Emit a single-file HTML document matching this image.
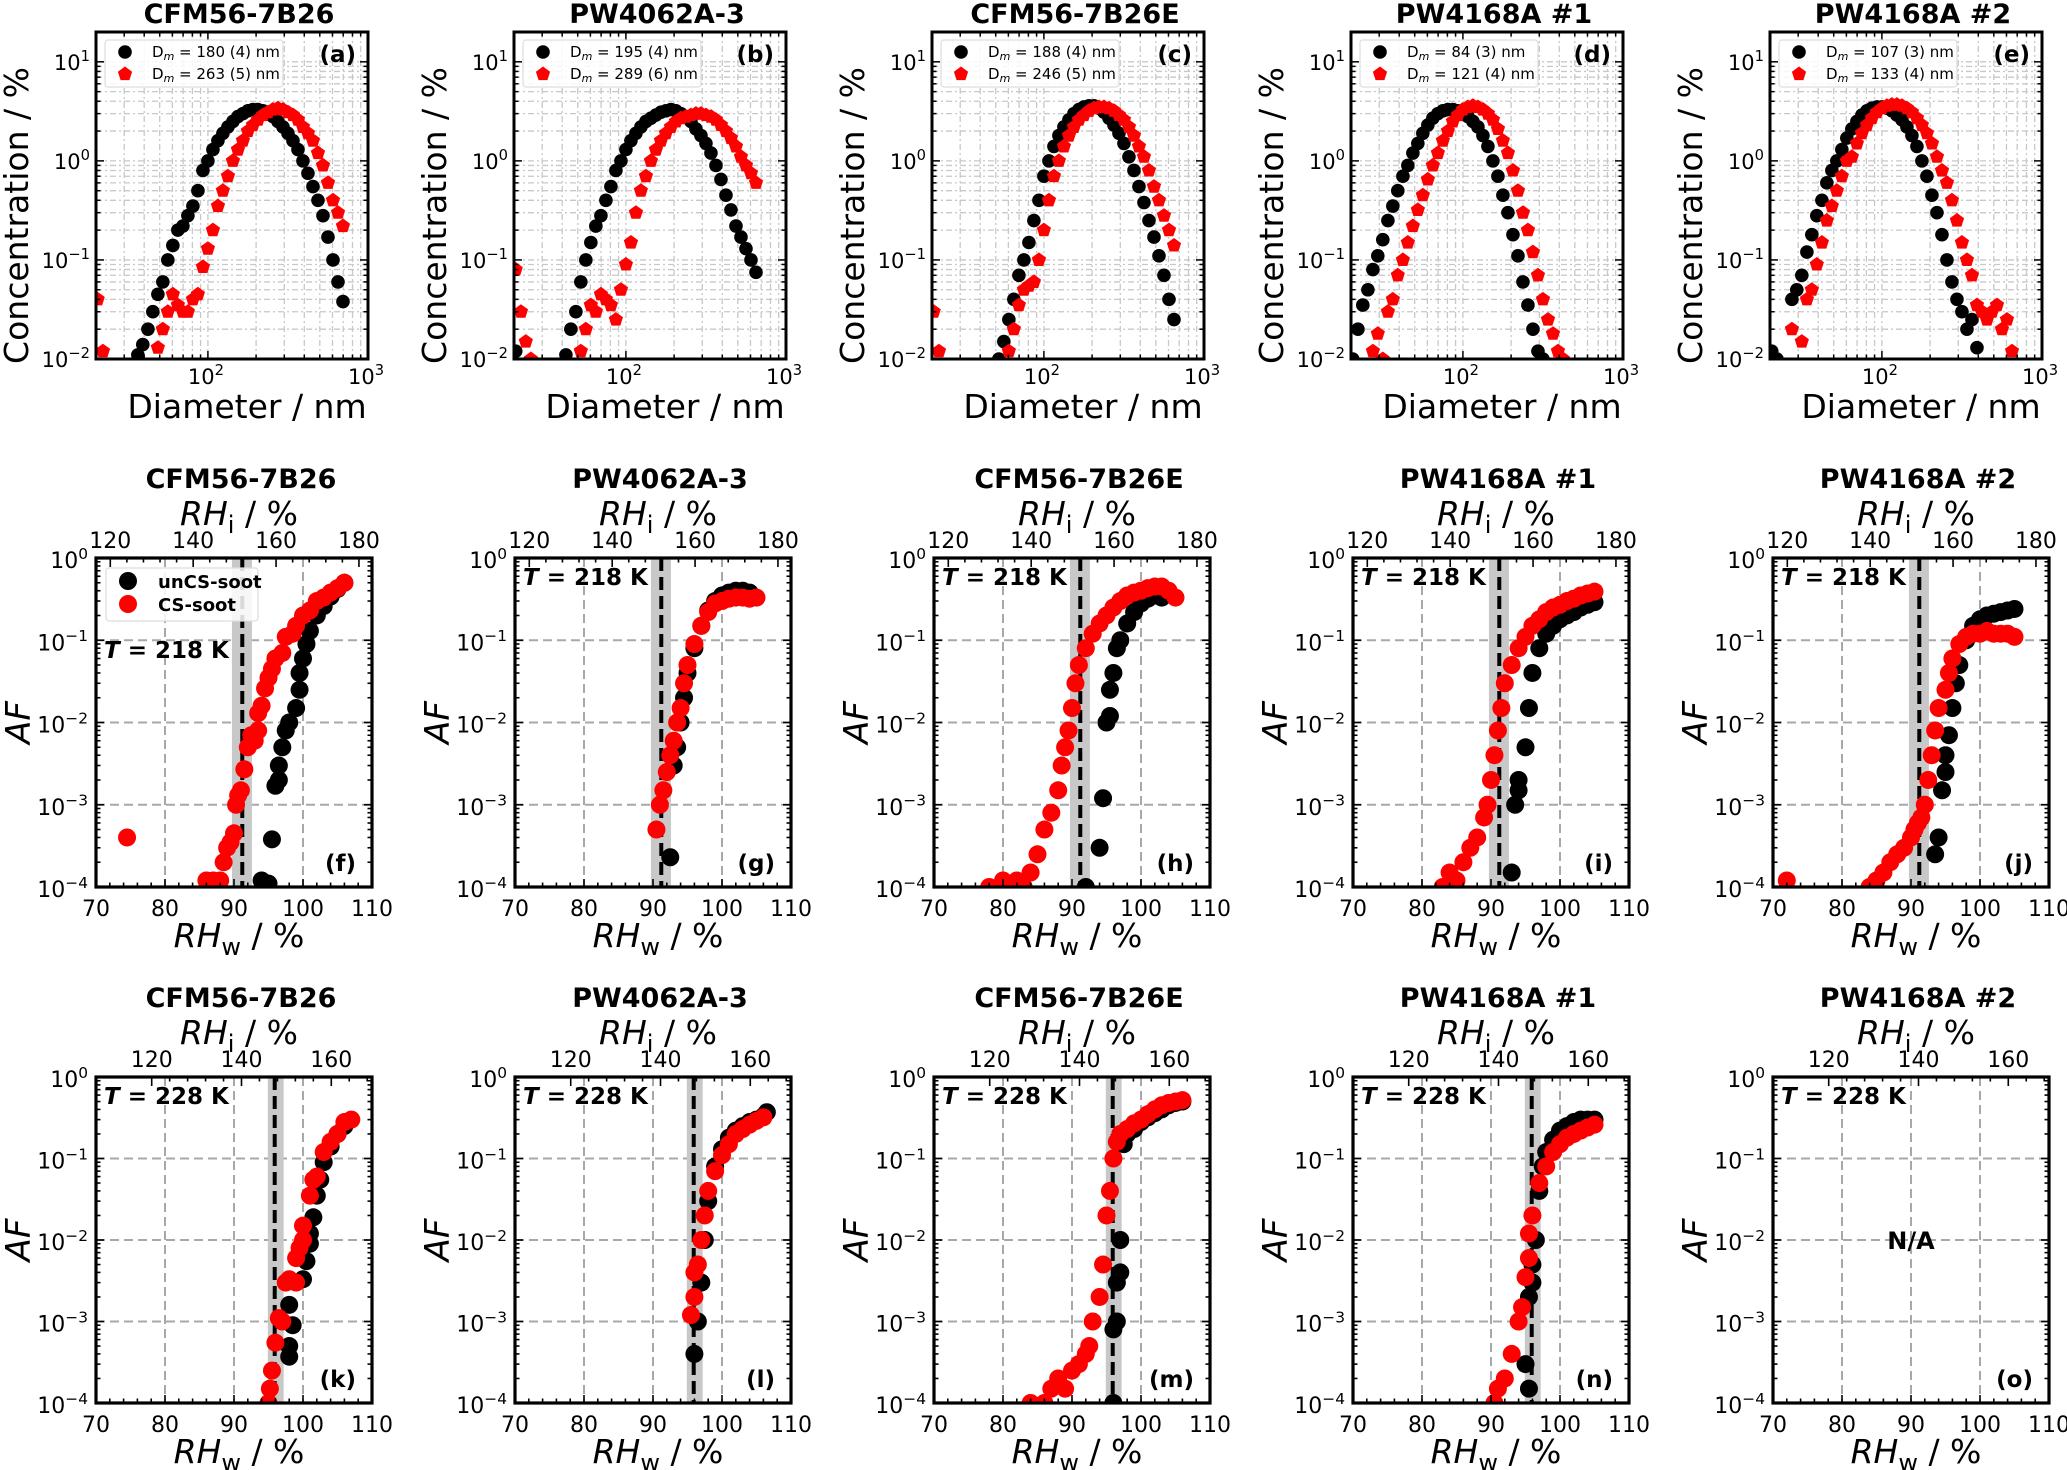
<!DOCTYPE html>
<html><head><meta charset="utf-8"><style>
html,body{margin:0;padding:0;background:#fff;}
svg{display:block;font-family:"DejaVu Sans","Liberation Sans",sans-serif;}
</style></head><body>
<svg id="fig" xmlns="http://www.w3.org/2000/svg" width="2067" height="1470" viewBox="0 0 2067 1470"></svg>
<script>
// ---------- DATA: size distributions (row 1) ----------
const diam = [20.5,22.1,23.7,25.5,27.4,29.4,31.6,34.0,36.5,39.2,42.2,45.3,48.7,52.3,56.2,60.4,64.9,69.8,75.0,80.6,86.6,93.1,100,107.5,115.5,124.1,133.4,143.3,154.0,165.5,177.8,191.1,205.4,220.7,237.2,254.8,273.8,294.3,316.2,339.8,365.2,392.4,421.7,453.2,487.0,523.3,562.3,604.3,649.4,697.8];
const engines = ["CFM56-7B26","PW4062A-3","CFM56-7B26E","PW4168A #1","PW4168A #2"];
const dmBlack = ["180 (4)","195 (4)","188 (4)","84 (3)","107 (3)"];
const dmRed = ["263 (5)","289 (6)","246 (5)","121 (4)","133 (4)"];
const _ = null;
const concA_unCS = [_,_,_,_,_,_,_,_,0.011,0.014,0.02,0.03,0.045,0.06,0.1,0.14,0.2,0.22,0.28,0.35,0.5,0.8,1.0,1.3,1.6,1.9,2.2,2.5,2.8,3.0,3.2,3.3,3.3,3.2,3.0,2.8,2.5,2.2,1.9,1.6,1.3,1.0,0.75,0.55,0.4,0.28,0.17,0.1,0.06,0.038];
const concA_CS = [0.04,0.012,_,_,_,_,_,_,_,_,_,_,0.013,0.02,0.03,0.045,0.035,0.03,0.03,0.04,0.045,0.085,0.13,0.2,0.35,0.5,0.7,1.0,1.3,1.6,2.0,2.3,2.6,2.9,3.1,3.3,3.4,3.3,3.1,2.9,2.6,2.2,1.9,1.6,1.2,0.9,0.6,0.4,0.3,0.22];
const concB_unCS = [0.012,_,_,_,_,_,_,_,_,0.008,0.011,0.02,0.03,0.06,0.1,0.15,0.22,0.28,0.4,0.55,0.8,1.0,1.3,1.6,1.9,2.2,2.5,2.7,2.9,3.1,3.2,3.3,3.2,3.0,2.8,2.5,2.1,1.8,1.5,1.2,0.9,0.65,0.45,0.32,0.22,0.17,0.13,0.1,0.075,_];
const concB_CS = [0.08,0.03,0.015,0.01,_,_,_,_,_,_,_,_,_,0.012,0.02,0.035,0.03,0.045,0.04,0.035,0.025,0.05,0.09,0.15,0.3,0.5,0.7,1.0,1.3,1.6,1.9,2.2,2.5,2.7,2.8,2.9,3.0,3.0,2.9,2.8,2.6,2.3,2.0,1.7,1.4,1.1,0.9,0.75,0.6,_];
const concC_unCS = [_,_,_,_,_,_,_,_,_,_,_,_,_,0.01,0.015,0.025,0.04,0.07,0.1,0.15,0.25,0.4,0.7,1.0,1.4,1.8,2.2,2.6,3.0,3.3,3.5,3.6,3.6,3.4,3.1,2.7,2.3,1.9,1.5,1.1,0.8,0.55,0.38,0.25,0.17,0.11,0.07,0.04,0.025,_];
const concC_CS = [0.03,0.012,_,_,_,_,_,_,_,_,_,_,_,_,_,0.012,0.02,0.035,0.05,0.055,0.06,0.1,0.2,0.4,0.7,1.0,1.4,1.8,2.2,2.6,2.9,3.2,3.4,3.5,3.5,3.4,3.2,2.9,2.6,2.2,1.8,1.4,1.1,0.8,0.55,0.4,0.28,0.2,0.14,_];
const concD_unCS = [0.01,0.02,0.035,0.05,0.08,0.11,0.16,0.25,0.35,0.5,0.7,0.9,1.2,1.5,1.9,2.3,2.7,3.0,3.2,3.3,3.3,3.2,3.0,2.8,2.5,2.2,1.8,1.4,1.0,0.7,0.45,0.3,0.18,0.11,0.06,0.035,0.02,0.012,0.01,_,_,_,_,_,_,_,_,_,_,_];
const concD_CS = [_,_,_,_,0.012,0.018,0.01,0.03,0.04,0.07,0.1,0.15,0.22,0.32,0.45,0.65,0.9,1.2,1.6,2.0,2.5,2.9,3.3,3.5,3.6,3.5,3.3,3.0,2.6,2.1,1.6,1.2,0.8,0.5,0.3,0.2,0.12,0.07,0.04,0.025,0.018,0.012,0.01,_,_,_,_,_,_,_];
const concE_unCS = [0.012,0.01,_,_,0.04,0.05,0.07,0.12,0.18,0.28,0.4,0.6,0.8,1.0,1.3,1.7,2.1,2.5,2.9,3.2,3.4,3.5,3.5,3.4,3.2,2.9,2.6,2.2,1.8,1.4,1.0,0.7,0.45,0.3,0.18,0.1,0.06,0.04,0.03,0.02,0.025,0.013,_,_,_,_,_,_,_,_];
const concE_CS = [_,_,_,_,0.02,_,0.015,0.04,0.05,0.09,0.15,0.25,0.35,0.5,0.7,1.0,1.1,1.5,1.9,2.3,2.7,3.1,3.4,3.6,3.7,3.7,3.6,3.4,3.1,2.7,2.3,1.9,1.5,1.1,0.8,0.6,0.4,0.25,0.15,0.1,0.07,0.035,0.03,0.025,0.03,0.035,0.02,0.025,0.012,_];
const concUnCS = [concA_unCS,concB_unCS,concC_unCS,concD_unCS,concE_unCS];
const concCS = [concA_CS,concB_CS,concC_CS,concD_CS,concE_CS];

// ---------- DATA: activated fraction (rows 2,3) ----------
const f_un_rh=[94,95,95.5,96,96.5,96.5,97,97.5,98,99,99.5,99.5,100,100.5,101,102,103,104,105,106];
const f_un_af=[1.2e-4,1.1e-4,3.8e-4,1.7e-3,2e-3,3e-3,5e-3,8e-3,1e-2,1.5e-2,2.5e-2,4e-2,6e-2,9e-2,1.3e-1,2e-1,2.6e-1,3.4e-1,4.2e-1,5e-1];
const f_cs_rh=[74.5,86,87,88,88.5,89,89.5,90,90.3,90.6,91,91.5,92,92.5,93,93.5,93.5,94,94.5,95,95.5,96,97,97.5,98.5,99,100,101,102,103,104,105,106];
const f_cs_af=[4e-4,1.2e-4,1.2e-4,1.2e-4,2e-4,3e-4,3.5e-4,4.5e-4,1e-3,1.3e-3,1.5e-3,2.7e-3,5e-3,7e-3,6e-3,8e-3,1.3e-2,1.6e-2,2.6e-2,3.5e-2,4.5e-2,6e-2,7e-2,1.1e-1,1.2e-1,1.5e-1,2e-1,2.3e-1,3e-1,3.3e-1,3.8e-1,4.3e-1,5e-1];
const g_un_rh=[92.5,93,93.5,94,94.5,95,96,97,98,99,100,101,102,103,104];
const g_un_af=[2.3e-4,3e-3,5e-3,1e-2,2e-2,4e-2,8e-2,1.5e-1,2.3e-1,3e-1,3.5e-1,3.8e-1,4e-1,4e-1,3.8e-1];
const g_cs_rh=[90.5,91,91.5,92,92.5,93,93.5,94,94.5,95,96,97,98,99,100,101,102,103,104,105];
const g_cs_af=[5e-4,1e-3,1.5e-3,2.5e-3,4e-3,6e-3,1e-2,1.5e-2,3e-2,5e-2,9e-2,1.5e-1,2.2e-1,2.8e-1,3e-1,3.2e-1,3.3e-1,3.3e-1,3.2e-1,3.3e-1];
const h_un_rh=[92,94,94.5,95,95.5,95.5,96,96.5,97,98,99,100,101,102,103];
const h_un_af=[1e-4,3e-4,1.2e-3,1e-2,1.2e-2,2.5e-2,4e-2,8e-2,1e-1,1.6e-1,2.2e-1,2.8e-1,3.2e-1,3.5e-1,3.3e-1];
const h_cs_rh=[78,80,81,82,83,84,85,86,87,88,88.5,89,89.5,90,90.5,91,92,93,94,95,96,97,98,99,100,101,102,103,104,105];
const h_cs_af=[1e-4,1.2e-4,1e-4,1.2e-4,1e-4,1.5e-4,2.5e-4,5e-4,8e-4,1.5e-3,3e-3,5e-3,8e-3,1.5e-2,3e-2,5e-2,8e-2,1.2e-1,1.6e-1,2e-1,2.5e-1,3e-1,3.5e-1,3.8e-1,4e-1,4.3e-1,4.5e-1,4.5e-1,4e-1,3.3e-1];
const i_un_rh=[93,93.5,94,94,95,95.5,96,97,98,99,100,101,102,103,104,105];
const i_un_af=[1.5e-4,1e-3,1.5e-3,2e-3,5e-3,1.5e-2,4e-2,8e-2,1.2e-1,1.5e-1,1.8e-1,2e-1,2.2e-1,2.5e-1,2.7e-1,2.9e-1];
const i_cs_rh=[83,84,85,86,87,88,89,89.5,90,90.5,91,91.5,92,93,94,95,96,97,98,99,100,101,102,103,104,105];
const i_cs_af=[1e-4,1.5e-4,1.2e-4,2e-4,3e-4,4e-4,7e-4,1e-3,2e-3,4e-3,8e-3,1.5e-2,3e-2,5e-2,8e-2,1.1e-1,1.5e-1,1.8e-1,2.2e-1,2.5e-1,2.7e-1,3e-1,3.2e-1,3.5e-1,3.7e-1,3.9e-1];
const j_un_rh=[93.5,94,94.5,95,95,95.5,96,96.5,97,98,99,100,101,102,103,104,105];
const j_un_af=[2.5e-4,4e-4,1.5e-3,2.5e-3,4e-3,7e-3,1.5e-2,3e-2,5e-2,1e-1,1.5e-1,1.8e-1,2e-1,2.1e-1,2.2e-1,2.3e-1,2.4e-1];
const j_cs_rh=[72,84,85,86,87,88,89,90,90.5,91,91.5,92,92.5,93,93.5,94,95,95.5,96,97,98,99,100,101,102,103,104,105];
const j_cs_af=[1.2e-4,1e-4,1.2e-4,1.5e-4,2e-4,2.5e-4,3e-4,4e-4,5e-4,6e-4,7e-4,1e-3,2e-3,4e-3,8e-3,1.5e-2,2.5e-2,4e-2,6e-2,9e-2,1.1e-1,1.2e-1,1.2e-1,1.3e-1,1.2e-1,1.2e-1,1.2e-1,1.1e-1];
const k_un_rh=[98,98,98.5,98,100,100.5,101,101,101.5,102,102.5,103,104,105,106];
const k_un_af=[3.7e-4,5e-4,9e-4,1.6e-3,3.3e-3,5.5e-3,9e-3,1.2e-2,1.9e-2,3.5e-2,5.5e-2,9e-2,1.4e-1,2e-1,2.5e-1];
const k_cs_rh=[95,95.2,95.5,96,96.5,97,97.5,98,99,99,99.5,100,100,101,101.5,102,103,104,105,106,107];
const k_cs_af=[1e-4,1.5e-4,2.5e-4,5.5e-4,1.1e-3,1e-3,3e-3,3.3e-3,3e-3,6e-3,8e-3,1e-2,1.5e-2,3.5e-2,5.5e-2,6e-2,1.2e-1,1.6e-1,2e-1,2.8e-1,3e-1];
const l_un_rh=[96,96.5,97,97.5,98,99,100,101,102,103,104,105,106,106.5];
const l_un_af=[4e-4,1e-3,3e-3,1e-2,3e-2,8e-2,1.3e-1,1.8e-1,2.2e-1,2.5e-1,2.8e-1,3e-1,3.3e-1,3.7e-1];
const l_cs_rh=[95.5,96,96,96.5,97,97.5,98,99,100,101,102,103,104,105,106];
const l_cs_af=[1.2e-3,2e-3,4e-3,5e-3,1e-2,2e-2,4e-2,7e-2,1.1e-1,1.5e-1,2e-1,2.3e-1,2.6e-1,2.9e-1,3.2e-1];
const m_un_rh=[96,96,96.5,96.5,97,97,97.5,98,99,100,101,102,103,104,105,106];
const m_un_af=[1e-4,8e-4,1e-3,3e-3,4e-3,1e-2,1.5e-1,2e-1,2.3e-1,2.8e-1,3.2e-1,3.6e-1,4e-1,4.5e-1,4.8e-1,5e-1];
const m_cs_rh=[84,86,87,88,89,90,91,92,92.5,93,94,94.5,95,95.5,96,96.5,97,98,99,100,101,102,103,104,105,106];
const m_cs_af=[1e-4,1e-4,1.5e-4,2e-4,1.5e-4,2.5e-4,3e-4,4e-4,5e-4,1e-3,2e-3,5e-3,2e-2,4e-2,1e-1,1.6e-1,2e-1,2.3e-1,2.7e-1,3e-1,3.5e-1,4e-1,4.5e-1,4.8e-1,5e-1,5.2e-1];
const n_un_rh=[95.5,95,95.5,96,96,96.5,97,97.5,98,99,100,101,102,103,104,105];
const n_un_af=[1.5e-4,3e-4,2e-3,3e-3,5e-3,1e-2,4e-2,8e-2,1.2e-1,1.7e-1,2.2e-1,2.5e-1,2.8e-1,3e-1,3e-1,3e-1];
const n_cs_rh=[90.5,91,92,93,94,94.5,95,95.5,95.5,96,97,98,99,100,101,102,103,104,105];
const n_cs_af=[1e-4,1.5e-4,2e-4,4e-4,1e-3,1.5e-3,3.5e-3,6e-3,1.2e-2,2e-2,5e-2,8e-2,1.2e-1,1.5e-1,1.8e-1,2e-1,2.2e-1,2.4e-1,2.6e-1];
const row2Un = [[f_un_rh,f_un_af],[g_un_rh,g_un_af],[h_un_rh,h_un_af],[i_un_rh,i_un_af],[j_un_rh,j_un_af]];
const row2Cs = [[f_cs_rh,f_cs_af],[g_cs_rh,g_cs_af],[h_cs_rh,h_cs_af],[i_cs_rh,i_cs_af],[j_cs_rh,j_cs_af]];
const row3Un = [[k_un_rh,k_un_af],[l_un_rh,l_un_af],[m_un_rh,m_un_af],[n_un_rh,n_un_af],null];
const row3Cs = [[k_cs_rh,k_cs_af],[l_cs_rh,l_cs_af],[m_cs_rh,m_cs_af],[n_cs_rh,n_cs_af],null];
const threshold218 = [89.7, 91.2, 92.6];
const threshold228 = [94.9, 95.9, 97.2];
const rhiRatio218 = 1.665, rhiRatio228 = 1.537;
const rhiTicks218 = [120,140,160,180];
const rhiTicks228 = [120,140,160];
const rhwTicks = [70,80,90,100,110];
const afExps = [0,-1,-2,-3,-4];
const letters2 = ["f","g","h","i","j"], letters3 = ["k","l","m","n","o"], letters1=["a","b","c","d","e"];

// ---------- drawing ----------
const NS="http://www.w3.org/2000/svg";
const svg=document.getElementById('fig');
function mk(tag,attrs,parent){const e=document.createElementNS(NS,tag);for(const k in attrs)e.setAttribute(k,attrs[k]);(parent||svg).appendChild(e);return e;}
function txt(str,attrs,parent){const e=mk('text',attrs,parent);e.textContent=str;return e;}
function powText(base,exp,x,y,size,anchor,parent){
  const t=mk('text',{x:x,y:y,'font-size':size,'text-anchor':anchor,fill:'#000'},parent);
  const a=document.createElementNS(NS,'tspan');a.textContent=base;t.appendChild(a);
  const b=document.createElementNS(NS,'tspan');b.textContent=exp;b.setAttribute('dy',-size*0.42);b.setAttribute('font-size',size*0.7);t.appendChild(b);
  return t;
}
const colL=[96,514,932,1351,1770];
let clipId=0;
function clip(g,x,y,w,h){const id='c'+(clipId++);const cp=mk('clipPath',{id:id},g);mk('rect',{x:x,y:y,width:w,height:h},cp);return id;}
function pent(cx,cy,r,fill,parent){let p=[];for(let i=0;i<5;i++){const a=-Math.PI/2+i*2*Math.PI/5;p.push((cx+r*Math.cos(a)).toFixed(1)+','+(cy+r*Math.sin(a)).toFixed(1));}return mk('polygon',{points:p.join(' '),fill:fill},parent);}

// Row 1
for(let c=0;c<5;c++){
  const L=colL[c],W=272,T=32,B=359;
  const xmin=Math.log10(20),xmax=3,ymin=-2,ymax=Math.log10(20);
  const X=v=>L+(Math.log10(v)-xmin)/(xmax-xmin)*W;
  const Y=v=>B-(Math.log10(v)-ymin)/(ymax-ymin)*(B-T);
  const g=mk('g',{});
  
  
  const ttl=txt(engines[c],{x:L+W/2+7,y:23,'font-size':27,'font-weight':'bold','text-anchor':'middle'},g);
  
  
  // grid
  const gg=mk('g',{stroke:'#c8c8c8','stroke-width':1.3,'stroke-dasharray':'6,3,2,3'},g);
  for(let e=1;e<=2;e++)for(let m=1;m<=9;m++){const v=m*Math.pow(10,e);if(v<20||v>1000)continue;const x=X(v);mk('line',{x1:x,x2:x,y1:T,y2:B},gg);}
  for(let e=-2;e<=1;e++)for(let m=1;m<=9;m++){const v=m*Math.pow(10,e);if(Math.log10(v)>ymax)continue;const y=Y(v);mk('line',{x1:L,x2:L+W,y1:y,y2:y},gg);}
  const cid=clip(g,L,T,W,B-T);
  const dg=mk('g',{'clip-path':'url(#'+cid+')'},g);
  const un=concUnCS[c],cs=concCS[c];
  for(let i=0;i<diam.length;i++){if(un[i]!=null){const p=mk('circle',{cx:X(diam[i]),cy:Y(un[i]),r:6.8,fill:'#000'},dg);}}
  for(let i=0;i<diam.length;i++){if(cs[i]!=null){const p=pent(X(diam[i]),Y(cs[i]),7.5,'#f00',dg);}}
  // ticks
  const tg=mk('g',{stroke:'#000','stroke-width':1.5},g);
  for(let e=1;e<=2;e++)for(let m=1;m<=9;m++){const v=m*Math.pow(10,e);if(v<20)continue;const x=X(v);const len=m==1?8:4.5;mk('line',{x1:x,x2:x,y1:B,y2:B-len},tg);mk('line',{x1:x,x2:x,y1:T,y2:T+len},tg);}
  for(let e=-2;e<=1;e++)for(let m=1;m<=9;m++){const v=m*Math.pow(10,e);if(Math.log10(v)>ymax)continue;const y=Y(v);const len=m==1?8:4.5;mk('line',{x1:L,x2:L+len,y1:y,y2:y},tg);mk('line',{x1:L+W,x2:L+W-len,y1:y,y2:y},tg);}
  mk('rect',{x:L,y:T,width:W,height:B-T,fill:'none',stroke:'#000','stroke-width':3},g);
  [2,3].forEach(e=>powText('10',String(e),X(Math.pow(10,e))-2,384,21,'middle',g));
  [-2,-1,0,1].forEach(e=>powText('10',e<0?'\u2212'+(-e):String(e),L-6,Y(Math.pow(10,e))+8,21,'end',g));
  const xl=txt('Diameter / nm',{x:L+W/2+15,y:418,'font-size':33,'text-anchor':'middle'},g);
  
  
  const yl=txt('Concentration / %',{x:0,y:0,'font-size':33,'text-anchor':'middle',transform:'translate('+(L-68)+','+((T+B)/2+20)+') rotate(-90)'},g);
  
  
  // legend
  const lg=mk('g',{},g);
  
  
  mk('rect',{x:L+9,y:40,width:178,height:47,rx:3,fill:'#fff','fill-opacity':0.85,stroke:'#ddd','stroke-width':1.2},lg);
  mk('circle',{cx:L+29,cy:52,r:6.8,fill:'#000'},lg);
  pent(L+29,74,7.5,'#f00',lg);
  [[dmBlack[c],57],[dmRed[c],79]].forEach(([s,y])=>{const t=mk('text',{x:L+56,y:y,'font-size':15},lg);const a=document.createElementNS(NS,'tspan');a.textContent='D';t.appendChild(a);const b=document.createElementNS(NS,'tspan');b.textContent='m';b.setAttribute('font-style','italic');b.setAttribute('font-size',11);b.setAttribute('dy',3);t.appendChild(b);const d=document.createElementNS(NS,'tspan');d.textContent=' = '+s+' nm';d.setAttribute('dy',-3);t.appendChild(d);});
  const pl=txt('('+letters1[c]+')',{x:L+W-12,y:62,'font-size':23,'font-weight':'bold','text-anchor':'end'},g);
  
  
}

// Rows 2 & 3
function afPanel(c,row){
  const L=[96,515,934,1353,1773][c],W=276;
  const T=row==2?558:1077,B=row==2?887:1403;
  const tOff=T-558;
  const X=v=>L+(v-70)/40*W;
  const Y=v=>B-(Math.log10(v)+4)/4*(B-T);
  const ratio=row==2?rhiRatio218:rhiRatio228;
  const rhiT=row==2?rhiTicks218:rhiTicks228;
  const thr=row==2?threshold218:threshold228;
  const g=mk('g',{});
  
  
  const ttl=txt(engines[c],{x:L+W/2+7,y:T-70,'font-size':27,'font-weight':'bold','text-anchor':'middle'},g);
  
  
  // top axis title
  const tt=mk('text',{x:L+W/2+5,y:T-33,'font-size':33,'text-anchor':'middle','font-style':'italic'},g);
  
  
  let s1=document.createElementNS(NS,'tspan');s1.textContent='RH';tt.appendChild(s1);
  let s2=document.createElementNS(NS,'tspan');s2.textContent='i';s2.setAttribute('font-style','normal');s2.setAttribute('font-size',24);s2.setAttribute('dy',8);tt.appendChild(s2);
  let s3=document.createElementNS(NS,'tspan');s3.textContent=' / %';s3.setAttribute('font-style','normal');s3.setAttribute('dy',-8);tt.appendChild(s3);
  // grid
  const gg=mk('g',{stroke:'#a8a8a8','stroke-width':2,'stroke-dasharray':'9,5'},g);
  [80,90,100].forEach(v=>mk('line',{x1:X(v),x2:X(v),y1:T,y2:B},gg));
  [-1,-2,-3].forEach(e=>mk('line',{x1:L,x2:L+W,y1:Y(Math.pow(10,e)),y2:Y(Math.pow(10,e))},gg));
  if(row3Un[c]!==null||row==2){
    const band=mk('rect',{x:X(thr[0]),y:T,width:X(thr[2])-X(thr[0]),height:B-T,fill:'#c8c8c8'},g);
    
    
    const ln=mk('line',{x1:X(thr[1]),x2:X(thr[1]),y1:T,y2:B,stroke:'#000','stroke-width':4,'stroke-dasharray':'13,6'},g);
    
    
  }
  const cid=clip(g,L,T,W,B-T);
  const dg=mk('g',{'clip-path':'url(#'+cid+')'},g);
  const un=row==2?row2Un[c]:row3Un[c], cs=row==2?row2Cs[c]:row3Cs[c];
  if(un){for(let i=0;i<un[0].length;i++){const p=mk('circle',{cx:X(un[0][i]),cy:Y(un[1][i]),r:9,fill:'#000'},dg);}}
  if(cs){for(let i=0;i<cs[0].length;i++){const p=mk('circle',{cx:X(cs[0][i]),cy:Y(cs[1][i]),r:9,fill:'#f00'},dg);}}
  // ticks
  const tg=mk('g',{stroke:'#000','stroke-width':1.6},g);
  for(let v=70;v<=110;v+=2){const len=(v%10==0)?8:4.5;mk('line',{x1:X(v),x2:X(v),y1:B,y2:B-len},tg);}
  for(let v=120;v<=184;v+=4){const rw=v/ratio;if(rw>110)continue;const len=(v%20==0)?9:4.5;mk('line',{x1:X(rw),x2:X(rw),y1:T,y2:T+len},tg);}
  for(let e=-4;e<=0;e++)for(let m=1;m<=9;m++){const v=m*Math.pow(10,e);if(v>1)continue;const y=Y(v);const len=m==1?8:4.5;mk('line',{x1:L,x2:L+len,y1:y,y2:y},tg);mk('line',{x1:L+W,x2:L+W-len,y1:y,y2:y},tg);}
  mk('rect',{x:L,y:T,width:W,height:B-T,fill:'none',stroke:'#000','stroke-width':3.2},g);
  rhwTicks.forEach(v=>txt(String(v),{x:X(v),y:B+29,'font-size':22,'text-anchor':'middle'},g));
  rhiT.forEach(v=>txt(String(v),{x:X(v/ratio),y:T-10,'font-size':22,'text-anchor':'middle'},g));
  afExps.forEach(e=>powText('10',e<0?'\u2212'+(-e):'0',L-8,Y(Math.pow(10,e))+10,22,'end',g));
  const xl=mk('text',{x:L+W/2+5,y:B+60,'font-size':33,'text-anchor':'middle','font-style':'italic'},g);
  
  
  s1=document.createElementNS(NS,'tspan');s1.textContent='RH';xl.appendChild(s1);
  s2=document.createElementNS(NS,'tspan');s2.textContent='w';s2.setAttribute('font-style','normal');s2.setAttribute('font-size',24);s2.setAttribute('dy',8);xl.appendChild(s2);
  s3=document.createElementNS(NS,'tspan');s3.textContent=' / %';s3.setAttribute('font-style','normal');s3.setAttribute('dy',-8);xl.appendChild(s3);
  const yl=txt('AF',{x:0,y:0,'font-size':34,'text-anchor':'middle','font-style':'italic',transform:'translate('+(L-66)+','+((T+B)/2)+') rotate(-90)'},g);
  
  
  // temperature label
  const ty=(row==2&&c==0)?T+100:T+27;
  const tl=mk('text',{x:L+8,y:ty,'font-size':23,'font-weight':'bold'},g);
  
  
  let a=document.createElementNS(NS,'tspan');a.textContent='T';a.setAttribute('font-style','italic');tl.appendChild(a);
  let b=document.createElementNS(NS,'tspan');b.textContent=' = '+(row==2?'218':'228')+' K';tl.appendChild(b);
  const pl=txt('('+(row==2?letters2[c]:letters3[c])+')',{x:L+W-16,y:B-16,'font-size':23,'font-weight':'bold','text-anchor':'end'},g);
  
  
  if(row==3&&c==4){const na=txt('N/A',{x:X(90),y:Y(0.01)+9,'font-size':24,'font-weight':'bold','text-anchor':'middle'},g);}
  if(row==2&&c==0){
    const lg=mk('g',{},g);
    
    
    mk('rect',{x:L+10,y:T+10,width:152,height:53,rx:3,fill:'#fff','fill-opacity':0.85,stroke:'#ddd','stroke-width':1.2},lg);
    mk('circle',{cx:L+32,cy:T+23,r:9,fill:'#000'},lg);
    mk('circle',{cx:L+32,cy:T+46,r:9,fill:'#f00'},lg);
    txt('unCS-soot',{x:L+62,y:T+30,'font-size':18,'font-weight':'bold'},lg);
    txt('CS-soot',{x:L+62,y:T+53,'font-size':18,'font-weight':'bold'},lg);
  }
}
for(let c=0;c<5;c++){afPanel(c,2);afPanel(c,3);}
</script>
</body></html>
